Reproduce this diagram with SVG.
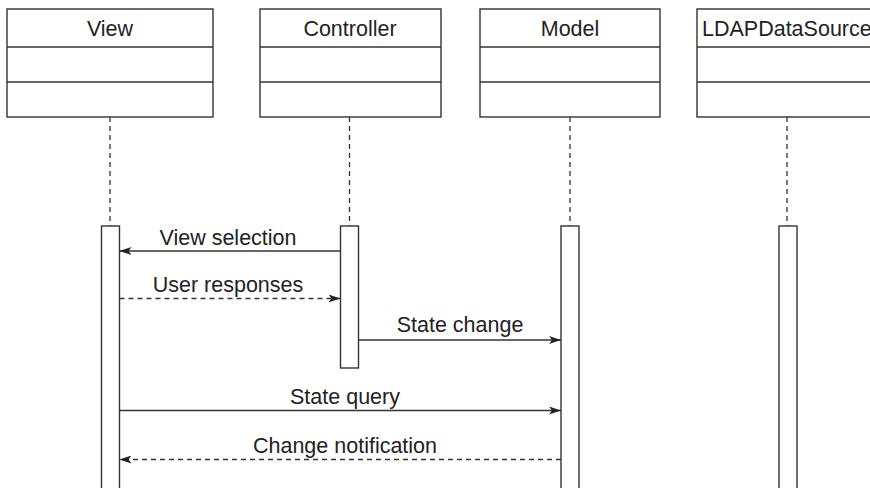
<svg xmlns="http://www.w3.org/2000/svg" width="870" height="488" viewBox="0 0 870 488">
<style>
.box{fill:#fff;stroke:#333;stroke-width:1.4}
.life{stroke:#333;stroke-width:1.3;stroke-dasharray:5 4;fill:none}
.bar{fill:#fff;stroke:#333;stroke-width:1.4}
.msg{stroke:#333;stroke-width:1.3;fill:none}
.dash{stroke-dasharray:5 4}
text{font-family:"Liberation Sans",Arial,sans-serif;font-size:21.5px;fill:#222;text-anchor:middle}
</style>
<defs>
<marker id="ah" viewBox="0 0 12 8" refX="12" refY="4" markerWidth="12" markerHeight="8" markerUnits="userSpaceOnUse" orient="auto">
<path d="M0,0 L12,4 L0,8 L3,4 Z" fill="#222"/>
</marker>
</defs>
<rect width="870" height="488" fill="#fff"/>
<g id="view">
<rect class="box" x="7" y="9" width="206" height="108"/>
<line class="box" x1="7" y1="47" x2="213" y2="47"/>
<line class="box" x1="7" y1="82" x2="213" y2="82"/>
<text x="110" y="36">View</text>
<line class="life" x1="110" y1="117" x2="110" y2="226"/>
<rect class="bar" x="101.5" y="226" width="18" height="270"/>
</g>
<g id="controller">
<rect class="box" x="260" y="9" width="181" height="108"/>
<line class="box" x1="260" y1="47" x2="441" y2="47"/>
<line class="box" x1="260" y1="82" x2="441" y2="82"/>
<text x="350" y="36">Controller</text>
<line class="life" x1="349.5" y1="117" x2="349.5" y2="226"/>
<rect class="bar" x="340.5" y="226" width="18" height="142"/>
</g>
<g id="model">
<rect class="box" x="480" y="9" width="180" height="108"/>
<line class="box" x1="480" y1="47" x2="660" y2="47"/>
<line class="box" x1="480" y1="82" x2="660" y2="82"/>
<text x="570" y="36">Model</text>
<line class="life" x1="570" y1="117" x2="570" y2="226"/>
<rect class="bar" x="561" y="226" width="18" height="270"/>
</g>
<g id="ldap">
<rect class="box" x="697" y="9" width="180" height="108"/>
<line class="box" x1="697" y1="47" x2="877" y2="47"/>
<line class="box" x1="697" y1="82" x2="877" y2="82"/>
<text x="702" y="36" style="text-anchor:start">LDAPDataSource</text>
<line class="life" x1="787" y1="117" x2="787" y2="226"/>
<rect class="bar" x="779" y="226" width="18" height="270"/>
</g>
<g id="connectors">
<line class="msg" x1="340.5" y1="251" x2="119.5" y2="251" marker-end="url(#ah)"/>
<text x="228" y="245">View selection</text>
<line class="msg dash" x1="119.5" y1="298.5" x2="340.5" y2="298.5" marker-end="url(#ah)"/>
<text x="228" y="292">User responses</text>
<line class="msg" x1="358.5" y1="340" x2="561" y2="340" marker-end="url(#ah)"/>
<text x="460" y="332">State change</text>
<line class="msg" x1="119.5" y1="410.5" x2="561" y2="410.5" marker-end="url(#ah)"/>
<text x="345" y="404">State query</text>
<line class="msg dash" x1="561" y1="459.5" x2="119.5" y2="459.5" marker-end="url(#ah)"/>
<text x="345" y="452.5">Change notification</text>
</g>
</svg>
